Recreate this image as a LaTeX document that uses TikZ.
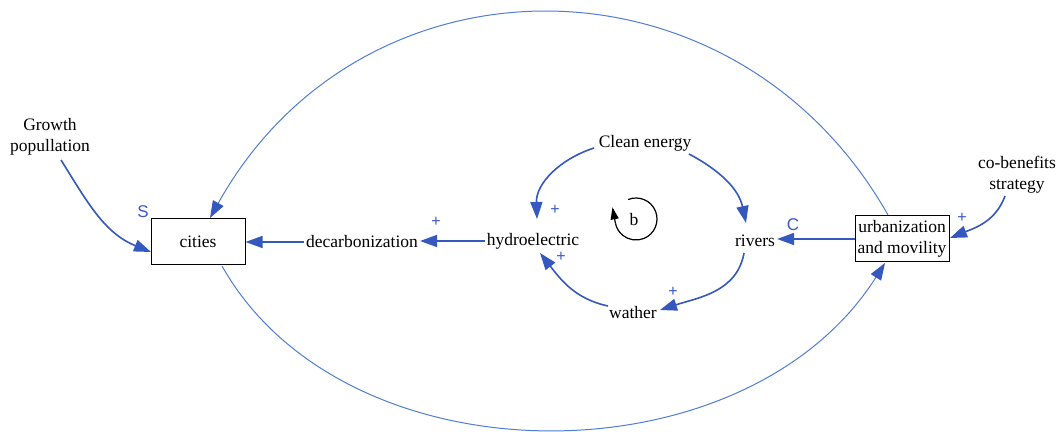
\documentclass[tikz,border=0pt]{standalone}
\usepackage{fontspec}
\setmainfont{Liberation Serif}
\setsansfont{Liberation Sans}
\usetikzlibrary{arrows.meta}
\definecolor{arrblue}{RGB}{52,88,190}
\definecolor{arcblue}{RGB}{80,125,215}
\definecolor{lblblue}{RGB}{60,90,200}
\begin{document}
\begin{tikzpicture}[x=1pt,y=1pt,
  txt/.style={font=\fontsize{17.5}{21}\selectfont, align=center, inner sep=2pt},
  boxnode/.style={txt, draw=black, line width=1pt, minimum width=94pt, minimum height=46pt, inner sep=2pt, fill=white},
  arr/.style={draw=arrblue, line width=1.6pt, -{Triangle[length=17pt,width=12pt]}},
  arcarr/.style={draw=arcblue, line width=1pt, -{Triangle[length=17pt,width=12pt,color=arrblue]}},
  sgn/.style={text=lblblue, font=\sffamily\fontsize{16}{16}\selectfont, inner sep=0pt},
  ltr/.style={text=lblblue, font=\sffamily\fontsize{17}{17}\selectfont, inner sep=0pt}
]
\useasboundingbox (0,0) rectangle (1057,431);
\fill[white] (0,0) rectangle (1057,431);

% nodes
\node[txt] (growth) at (50,294) {Growth\\popullation};
\node[boxnode] (cities) at (198,189) {cities};
\node[txt] (decarb) at (362,189) {decarbonization};
\node[txt] (hydro) at (533,190) {hydroelectric};
\node[txt] (clean) at (645,288) {Clean energy};
\node[txt] (rivers) at (755,190) {rivers};
\node[txt] (wather) at (633,118) {wather};
\node[boxnode] (urban) at (902,192) {urbanization\\and movility};
\node[txt] (cob) at (1017,256) {co-benefits\\strategy};

% big arcs
\coordinate (topA) at (888,216);
\coordinate (topB) at (210,213);
\coordinate (botA) at (222,165);
\coordinate (botB) at (885,168);
\draw[arcarr] (topA) .. controls (735,486) and (362,486) .. (topB);
\draw[arcarr] (botA) .. controls (345,-53) and (745,-53) .. (botB);

% straight links
\draw[arr] (decarb.west) -- (cities.east);
\draw[arr] (hydro.west) -- (hydro.west -| decarb.east);
\draw[arr] (urban.west) -- (urban.west -| rivers.east);

% curved links
\coordinate (gs) at (61,271);
\coordinate (ge) at (151,179);
\draw[arr] (gs) to[out=-58,in=158] (ge);

\coordinate (cs1) at (594,283);
\coordinate (he1) at (537,212);
\draw[arr] (cs1) to[out=198,in=92] (he1);

\coordinate (cs2) at (689,277);
\coordinate (re1) at (746,208);
\draw[arr] (cs2) to[out=-28,in=102] (re1);

\coordinate (rs) at (744,178);
\coordinate (we) at (660,121);
\draw[arr] (rs) to[out=-100,in=18] (we);

\coordinate (ws) at (608,125);
\coordinate (he2) at (540,178);
\draw[arr] (ws) to[out=168,in=-52] (he2);

\coordinate (cbs) at (1005,235);
\coordinate (ue) at (950,193);
\draw[arr] (cbs) to[out=-110,in=22] (ue);

% signs
\node[ltr] (S) at (143,219) {S};
\node[ltr] (C) at (793,206) {C};
\node[sgn] (p1) at (436,209) {+};
\node[sgn] (p2) at (555,221) {+};
\node[sgn] (p3) at (561,174) {+};
\node[sgn] (p4) at (673,139) {+};
\node[sgn] (p5) at (962,213) {+};

% loop symbol
\node[txt] (b) at (634,211) {b};
\coordinate (lc) at (636,212);
\draw[line width=1.2pt] ([shift={(112:21)}]lc) arc[start angle=112, end angle=-168, radius=21] coordinate (le);
\draw[line width=1.2pt, -{Triangle[length=12pt,width=8pt]}] (le) -- ++(-3,16);
\end{tikzpicture}
\end{document}
